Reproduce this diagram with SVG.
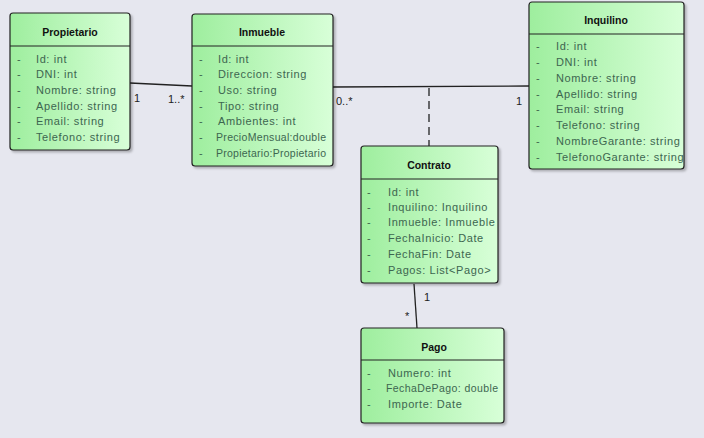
<svg xmlns="http://www.w3.org/2000/svg" width="704" height="438" viewBox="0 0 704 438">
<defs>
<linearGradient id="g" x1="0" y1="0" x2="1" y2="0">
<stop offset="0" stop-color="#9eee9e"/>
<stop offset="1" stop-color="#d8ffd8"/>
</linearGradient>
<filter id="sh" x="-10%" y="-10%" width="130%" height="130%">
<feDropShadow dx="2" dy="2" stdDeviation="1.2" flood-color="#000" flood-opacity="0.25"/>
</filter>
</defs>
<style>
.box{fill:url(#g);stroke:#222;stroke-width:1.2;filter:url(#sh)}
.sep{stroke:#222;stroke-width:1}
.t{font-family:"Liberation Sans",Arial,sans-serif;font-size:10.5px;font-weight:bold;fill:#111;text-anchor:middle}
.a{font-family:"Liberation Sans",Arial,sans-serif;font-size:11px;letter-spacing:0.6px;fill:#3d6650}
.c{font-family:"Liberation Sans",Arial,sans-serif;font-size:10.5px;fill:#3d6650}
.l{font-family:"Liberation Sans",Arial,sans-serif;font-size:11px;fill:#222}
.ln{stroke:#222;stroke-width:1.3;fill:none}
.dash{stroke:#222;stroke-width:1.3;fill:none;stroke-dasharray:8,5}
</style>
<rect width="704" height="438" fill="#e6e7ef"/>
<g id="connectors">
<line class="ln" x1="130" y1="83" x2="192" y2="86"/>
<line class="ln" x1="333" y1="87" x2="529" y2="86"/>
<line class="dash" x1="429" y1="88" x2="429" y2="146"/>
<line class="ln" x1="414" y1="284" x2="417" y2="328"/>
<text class="l" x="134" y="102">1</text>
<text class="l" x="168" y="103">1..*</text>
<text class="l" x="336" y="105">0..*</text>
<text class="l" x="516" y="105">1</text>
<text class="l" x="424" y="301">1</text>
<text class="l" x="405" y="320">*</text>
</g>
<g id="propietario">
<rect class="box" x="10" y="13" width="120" height="137" rx="3"/>
<line class="sep" x1="10" y1="46" x2="130" y2="46"/>
<text class="t" x="70" y="36">Propietario</text>
<g class="a">
<text x="17" y="63">-</text><text x="36" y="63">Id: int</text>
<text x="17" y="78">-</text><text x="36" y="78">DNI: int</text>
<text x="17" y="94">-</text><text x="36" y="94">Nombre: string</text>
<text x="17" y="110">-</text><text x="36" y="110">Apellido: string</text>
<text x="17" y="125">-</text><text x="36" y="125">Email: string</text>
<text x="17" y="141">-</text><text x="36" y="141">Telefono: string</text>
</g>
</g>
<g id="inmueble">
<rect class="box" x="192" y="14" width="141" height="152" rx="3"/>
<line class="sep" x1="192" y1="46" x2="333" y2="46"/>
<text class="t" x="262" y="36">Inmueble</text>
<g class="a">
<text x="199" y="63">-</text><text x="218" y="63">Id: int</text>
<text x="199" y="78">-</text><text x="218" y="78">Direccion: string</text>
<text x="199" y="94">-</text><text x="218" y="94">Uso: string</text>
<text x="199" y="110">-</text><text x="218" y="110">Tipo: string</text>
<text x="199" y="125">-</text><text x="218" y="125">Ambientes: int</text>
<text x="199" y="141">-</text>
<text x="199" y="157">-</text>
</g>
<text class="c" x="216" y="141" textLength="110" lengthAdjust="spacing">PrecioMensual:double</text>
<text class="c" x="216" y="157" textLength="110" lengthAdjust="spacing">Propietario:Propietario</text>
</g>
<g id="inquilino">
<rect class="box" x="529" y="2" width="155" height="167" rx="3"/>
<line class="sep" x1="529" y1="34" x2="684" y2="34"/>
<text class="t" x="606" y="24">Inquilino</text>
<g class="a">
<text x="536" y="50">-</text><text x="556" y="50">Id: int</text>
<text x="536" y="66">-</text><text x="556" y="66">DNI: int</text>
<text x="536" y="82">-</text><text x="556" y="82">Nombre: string</text>
<text x="536" y="98">-</text><text x="556" y="98">Apellido: string</text>
<text x="536" y="113">-</text><text x="556" y="113">Email: string</text>
<text x="536" y="129">-</text><text x="556" y="129">Telefono: string</text>
<text x="536" y="145">-</text><text x="556" y="145">NombreGarante: string</text>
<text x="536" y="161">-</text><text x="556" y="161">TelefonoGarante: string</text>
</g>
</g>
<g id="contrato">
<rect class="box" x="361" y="146" width="137" height="137" rx="3"/>
<line class="sep" x1="361" y1="179" x2="498" y2="179"/>
<text class="t" x="429" y="169">Contrato</text>
<g class="a">
<text x="367" y="196">-</text><text x="388" y="196">Id: int</text>
<text x="367" y="211">-</text><text x="388" y="211">Inquilino: Inquilino</text>
<text x="367" y="226">-</text><text x="388" y="226">Inmueble: Inmueble</text>
<text x="367" y="242">-</text><text x="388" y="242">FechaInicio: Date</text>
<text x="367" y="258">-</text><text x="388" y="258">FechaFin: Date</text>
<text x="367" y="274">-</text><text x="388" y="274">Pagos: List&lt;Pago&gt;</text>
</g>
</g>
<g id="pago">
<rect class="box" x="361" y="328" width="143" height="95" rx="3"/>
<line class="sep" x1="361" y1="360" x2="504" y2="360"/>
<text class="t" x="434" y="351">Pago</text>
<g class="a">
<text x="367" y="377">-</text><text x="388" y="377">Numero: int</text>
<text x="367" y="392">-</text>
<text x="367" y="408">-</text><text x="388" y="408">Importe: Date</text>
</g>
<text class="c" x="386" y="392" textLength="112" lengthAdjust="spacing">FechaDePago: double</text>
</g>
</svg>
